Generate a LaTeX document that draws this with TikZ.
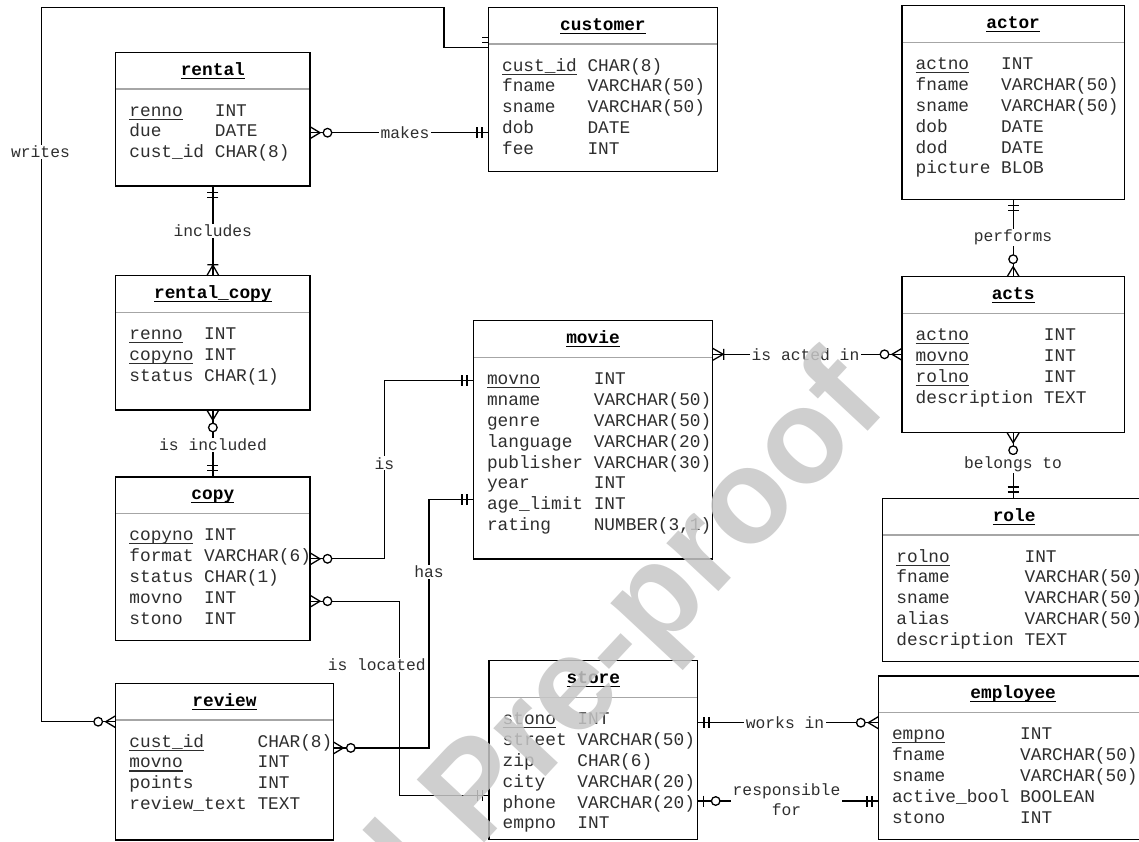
\documentclass[tikz,border=0pt]{standalone}
\usepackage{fontspec}
\setmonofont{Liberation Mono}
\setsansfont{Liberation Sans}
\usetikzlibrary{calc}
\newcommand\pk[1]{\setbox0\hbox{#1}\rlap{\rule[-3.6pt]{\wd0}{1.1pt}}\box0}
\tikzset{
  ent/.style={draw=black, line width=1.4pt, fill=white, rectangle, anchor=north west, inner sep=0pt, outer sep=0pt},
  ttl/.style={font=\fontsize{17.8}{20.9}\selectfont\ttfamily\bfseries, inner sep=0pt, anchor=base},
  rows/.style={font=\fontsize{17.8}{20.9}\selectfont\ttfamily, text=black!82, inner sep=0pt, anchor=base west},
  sepline/.style={draw=black!35, line width=1.6pt},
  rel/.style={draw=black, line width=1.3pt},
  lbl/.style={font=\fontsize{16.3}{20}\selectfont\ttfamily, text=black!82, fill=white, inner xsep=1.5pt, inner ysep=1pt},
  zmany/.pic={\draw[rel] (0,6) -- (10,0) -- (0,-6); \draw[rel,fill=white] (17.5,0) circle[radius=4.3pt];},
  omany/.pic={\draw[rel] (0,6) -- (10.5,0) -- (0,-6) (11,-5.5) -- (11,5.5);},
  mone/.pic={\draw[rel] (6.3,-5.5) -- (6.3,5.5) (11.3,-5.5) -- (11.3,5.5);},
  zone/.pic={\draw[rel] (5.6,-5.5) -- (5.6,5.5); \draw[rel,fill=white] (18,0) circle[radius=4.3pt];},
}
\newcommand\ent[7]{%
  \node[ent, minimum width=#4pt, minimum height=#5pt] (#1) at (#2,#3) {};
  \draw[sepline] ($(#1.north west)+(0.7,36.6)$) -- ($(#1.north east)+(-0.7,36.6)$);
  \node[ttl] (#1-t) at ($(#1.north)+(0,22.7)$) {\pk{#6}};
  \node[rows] (#1-r) at ($(#1.north west)+(13.5,63.7)$) {\begin{tabular}[t]{@{}l@{\hspace{10.68pt}}l@{}}#7\end{tabular}};
}
\begin{document}
\begin{tikzpicture}[x=1pt,y=-1pt]
\useasboundingbox (0,0) rectangle (1139,841);
\fill[white] (0,0) rectangle (1139,841);
\clip (0,0) rectangle (1139,841);

\ent{rental}{115.7}{52.3}{194.3}{133.7}{rental}{\pk{renno} & INT\\ due & DATE\\ cust\_id & CHAR(8)}
\ent{rentalcopy}{115.7}{275.7}{194.3}{134.3}{rental\_copy}{\pk{renno} & INT\\ \pk{copyno} & INT\\ status & CHAR(1)}
\ent{copy}{115.7}{477}{194.3}{163.7}{copy}{\pk{copyno} & INT\\ format & VARCHAR(6)\\ status & CHAR(1)\\ movno & INT\\ stono & INT}
\ent{review}{115.7}{683.3}{217.6}{156.7}{review}{\pk{cust\_id} & CHAR(8)\\ \pk{movno} & INT\\ points & INT\\ review\_text & TEXT}
\ent{customer}{488.4}{7.3}{229.1}{164.4}{customer}{\pk{cust\_id} & CHAR(8)\\ fname & VARCHAR(50)\\ sname & VARCHAR(50)\\ dob & DATE\\ fee & INT}
\ent{movie}{473.3}{320.7}{239.4}{238.1}{movie}{\pk{movno} & INT\\ mname & VARCHAR(50)\\ genre & VARCHAR(50)\\ language & VARCHAR(20)\\ publisher & VARCHAR(30)\\ year & INT\\ age\_limit & INT\\ rating & NUMBER(3,1)}
\ent{store}{489}{660.7}{208.7}{178.6}{store}{\pk{stono} & INT\\ street & VARCHAR(50)\\ zip & CHAR(6)\\ city & VARCHAR(20)\\ phone & VARCHAR(20)\\ empno & INT}
\ent{actor}{902}{5.7}{222.3}{193.6}{actor}{\pk{actno} & INT\\ fname & VARCHAR(50)\\ sname & VARCHAR(50)\\ dob & DATE\\ dod & DATE\\ picture & BLOB}
\ent{acts}{902}{276.7}{222.3}{156}{acts}{\pk{actno} & INT\\ \pk{movno} & INT\\ \pk{rolno} & INT\\ description & TEXT}
\ent{role}{882.7}{498.3}{262.8}{163.4}{role}{\pk{rolno} & INT\\ fname & VARCHAR(50)\\ sname & VARCHAR(50)\\ alias & VARCHAR(50)\\ description & TEXT}
\ent{employee}{878.3}{676}{269.7}{163.3}{employee}{\pk{empno} & INT\\ fname & VARCHAR(50)\\ sname & VARCHAR(50)\\ active\_bool & BOOLEAN\\ stono & INT}

% writes
\coordinate (wr-a) at ($(review.north west)+(0,38.4)$);
\coordinate (wr-b) at ($(customer.north west)+(0,40.4)$);
\draw[rel] (wr-a) -| (41.3,7.3) -| (444,47.7) -- (wr-b);
\pic[rotate=180] at (wr-a) {zmany};
\draw[rel] ($(wr-b)+(-6,-10)$) -- ++(6,0) ($(wr-b)+(-6,-5.5)$) -- ++(6,0);
\node[lbl] (writes) at (40.5,151.7) {writes};

% makes
\coordinate (mk-a) at ($(rental.north east)+(0,80.4)$);
\coordinate (mk-b) at (mk-a -| customer.west);
\draw[rel] (mk-a) -- (mk-b);
\pic at (mk-a) {zmany};
\pic[rotate=180] at (mk-b) {mone};
\node[lbl] (makes) at (405,132.7) {makes};

% includes
\draw[rel] (rental.south) -- (rentalcopy.north);
\pic[rotate=-90] at (rental.south) {mone};
\pic[rotate=90] at (rentalcopy.north) {omany};
\node[lbl] (includes) at (212.8,231) {includes};

% is included
\draw[rel] (rentalcopy.south) -- (copy.north);
\pic[rotate=-90] at (rentalcopy.south) {zmany};
\pic[rotate=90] at (copy.north) {mone};
\node[lbl] (isincl) at (213,445) {is included};

% is
\coordinate (is-a) at ($(copy.north east)+(0,81.8)$);
\coordinate (is-b) at ($(movie.north west)+(0,59.7)$);
\draw[rel] (is-a) -- ++(74.3,0) |- (is-b);
\pic at (is-a) {zmany};
\pic[rotate=180] at (is-b) {mone};
\node[lbl] (is) at (384.3,463.2) {is};

% has
\coordinate (has-a) at ($(movie.north west)+(0,178.7)$);
\coordinate (has-b) at ($(review.north east)+(0,64.6)$);
\draw[rel] (has-a) -- ++(-44.3,0) |- (has-b);
\pic[rotate=180] at (has-a) {mone};
\pic at (has-b) {zmany};
\node[lbl] (has) at (429,572) {has};

% is located
\coordinate (loc-a) at ($(copy.north east)+(0,124.2)$);
\coordinate (loc-b) at ($(store.north west)+(0,134.5)$);
\draw[rel] (loc-a) -- ++(89.3,0) |- (loc-b);
\pic at (loc-a) {zmany};
\pic[rotate=180] at (loc-b) {mone};
\node[lbl] (isloc) at (376.7,664.7) {is located};

% is acted in
\coordinate (act-a) at ($(movie.north east)+(0,33.6)$);
\coordinate (act-b) at (act-a -| acts.west);
\draw[rel] (act-a) -- (act-b);
\pic at (act-a) {omany};
\pic[rotate=180] at (act-b) {zmany};
\node[lbl] (actedin) at (805.5,354.3) {is acted in};

% performs
\draw[rel] (actor.south) -- (acts.north);
\pic[rotate=-90] at (actor.south) {mone};
\pic[rotate=90] at (acts.north) {zmany};
\node[lbl] (performs) at (1013,237.7) {performs};

% belongs to
\coordinate (bel-b) at (acts.south |- role.north);
\draw[rel] (acts.south) -- (bel-b);
\pic[rotate=-90] at (acts.south) {zmany};
\pic[rotate=90] at (bel-b) {mone};
\node[lbl] (belongs) at (1013,464) {belongs to};

% works in
\coordinate (wk-a) at ($(store.north east)+(0,62)$);
\coordinate (wk-b) at (wk-a -| employee.west);
\draw[rel] (wk-a) -- (wk-b);
\pic at (wk-a) {mone};
\pic[rotate=180] at (wk-b) {zmany};
\node[lbl] (worksin) at (785,722.7) {works in};

% responsible for
\coordinate (rs-a) at ($(store.north east)+(0,140.3)$);
\coordinate (rs-b) at (rs-a -| employee.west);
\draw[rel] (rs-a) -- (rs-b);
\pic at (rs-a) {zone};
\pic[rotate=180] at (rs-b) {mone};
\node[lbl, align=center, inner ysep=0pt] (resp) at (786.5,800) {responsible\\for};

% watermark
\node[font=\fontsize{134}{134}\selectfont\sffamily\bfseries, text=black!22, text opacity=0.85, rotate=47, anchor=base east, inner sep=0pt] (wm) at (890,408) {Journal Pre-proof};
\end{tikzpicture}
\end{document}
